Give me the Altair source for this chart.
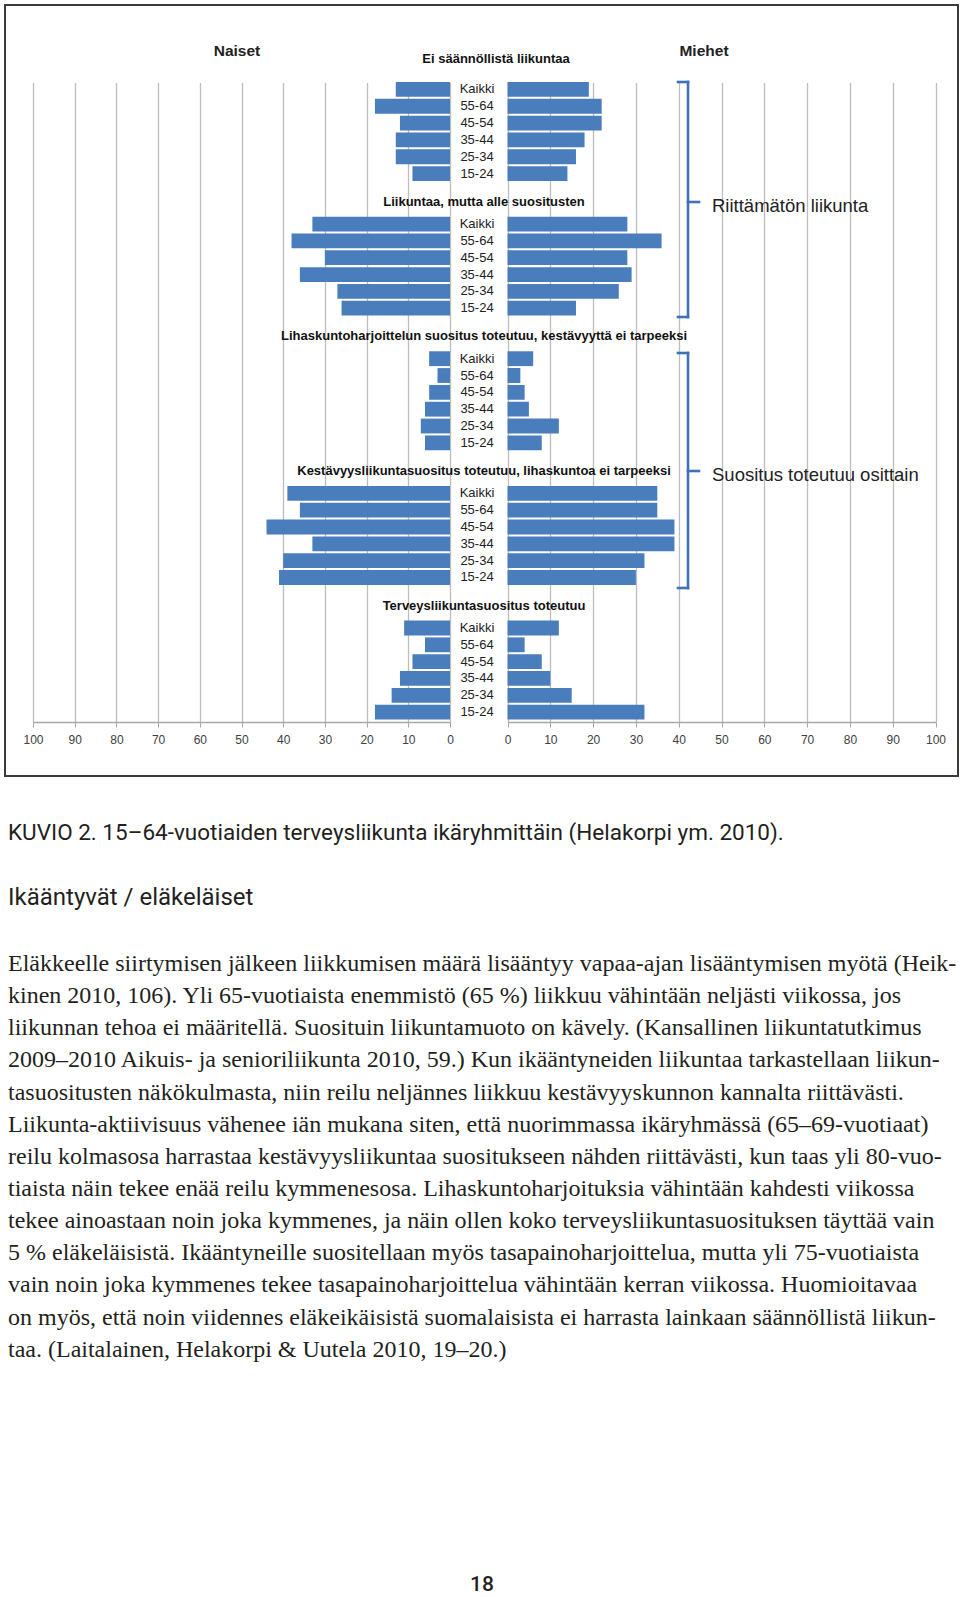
import altair as alt
import pandas as pd

# ---------------- data ----------------
groups = [
    "Ei säännöllistä liikuntaa",
    "Liikuntaa, mutta alle suositusten",
    "Lihaskuntoharjoittelun suositus toteutuu, kestävyyttä ei tarpeeksi",
    "Kestävyysliikuntasuositus toteutuu, lihaskuntoa ei tarpeeksi",
    "Terveysliikuntasuositus toteutuu",
]
ages = ["Kaikki", "55-64", "45-54", "35-44", "25-34", "15-24"]
naiset = [
    [13, 18, 12, 13, 13, 9],
    [33, 38, 30, 36, 27, 26],
    [5, 3, 5, 6, 7, 6],
    [39, 36, 44, 33, 40, 41],
    [11, 6, 9, 12, 14, 18],
]
miehet = [
    [19, 22, 22, 18, 16, 14],
    [28, 36, 28, 29, 26, 16],
    [6, 3, 4, 5, 12, 8],
    [35, 35, 39, 39, 32, 30],
    [12, 4, 8, 10, 15, 32],
]
tick_values = [0, 10, 20, 30, 40, 50, 60, 70, 80, 90, 100]
side_titles = ["Naiset", "Miehet"]
bracket_labels = ["Riittämätön liikunta", "Suositus toteutuu osittain"]

caption = "KUVIO 2. 15–64-vuotiaiden terveysliikunta ikäryhmittäin (Helakorpi ym. 2010)."
heading = "Ikääntyvät / eläkeläiset"
paragraph = [
    "Eläkkeelle siirtymisen jälkeen liikkumisen määrä lisääntyy vapaa-ajan lisääntymisen myötä (Heik-",
    "kinen 2010, 106). Yli 65-vuotiaista enemmistö (65 %) liikkuu vähintään neljästi viikossa, jos",
    "liikunnan tehoa ei määritellä. Suosituin liikuntamuoto on kävely. (Kansallinen liikuntatutkimus",
    "2009–2010 Aikuis- ja senioriliikunta 2010, 59.) Kun ikääntyneiden liikuntaa tarkastellaan liikun-",
    "tasuositusten näkökulmasta, niin reilu neljännes liikkuu kestävyyskunnon kannalta riittävästi.",
    "Liikunta-aktiivisuus vähenee iän mukana siten, että nuorimmassa ikäryhmässä (65–69-vuotiaat)",
    "reilu kolmasosa harrastaa kestävyysliikuntaa suositukseen nähden riittävästi, kun taas yli 80-vuo-",
    "tiaista näin tekee enää reilu kymmenesosa. Lihaskuntoharjoituksia vähintään kahdesti viikossa",
    "tekee ainoastaan noin joka kymmenes, ja näin ollen koko terveysliikuntasuosituksen täyttää vain",
    "5 % eläkeläisistä. Ikääntyneille suositellaan myös tasapainoharjoittelua, mutta yli 75-vuotiaista",
    "vain noin joka kymmenes tekee tasapainoharjoittelua vähintään kerran viikossa. Huomioitavaa",
    "on myös, että noin viidennes eläkeikäisistä suomalaisista ei harrasta lainkaan säännöllistä liikun-",
    "taa. (Laitalainen, Helakorpi & Uutela 2010, 19–20.)",
]
page_number = "18"

# ---------------- tables ----------------
rows = []
for gi, g in enumerate(groups):
    for ai, a in enumerate(ages):
        rows.append({"key": f"{gi}|{a}", "age": a, "group": g,
                     "naiset": naiset[gi][ai], "miehet": miehet[gi][ai]})
df = pd.DataFrame(rows)

row_domain = []
for gi in range(len(groups)):
    if gi > 0:
        row_domain.append(f"{gi}|H")
    for a in ages:
        row_domain.append(f"{gi}|{a}")
    if gi < len(groups) - 1:
        row_domain.append(f"{gi}|G")

hdr_df = pd.DataFrame([{"key": f"{gi}|H", "group": g} for gi, g in enumerate(groups) if gi > 0])
hdr0_df = pd.DataFrame([{"group": groups[0]}])
dummy = pd.DataFrame({"d": [0]})

# ---------------- style ----------------
BAR = "#4a7dbb"
BLUE = "#3f72b5"
SANS = "Liberation Sans"
VIEW_H = 641
STEP = 16.83

yscale = alt.Scale(domain=row_domain, range=[0, STEP * len(row_domain)],
                   paddingInner=0.12, paddingOuter=0.06)


def axis_cfg():
    return alt.Axis(values=tick_values, orient="bottom", title=None, grid=True,
                    gridColor="#bdbdbd", gridWidth=1.3, domainColor="#a8a8a8",
                    domainWidth=1.3, tickColor="#a8a8a8", tickSize=5,
                    labelFont=SANS, labelFontSize=12, labelColor="#404040",
                    labelPadding=7, labelFlush=False, labelOverlap=False)


frame = alt.Chart(dummy).mark_rect(fill="transparent", stroke="#3b3b3b", strokeWidth=2).encode(
    x=alt.value(5), x2=alt.value(958), y=alt.value(-76), y2=alt.value(695))

left = alt.Chart(df).mark_bar(color=BAR).encode(
    x=alt.X("naiset:Q", scale=alt.Scale(domain=[0, 100], range=[450, 33], nice=False),
            axis=axis_cfg()),
    y=alt.Y("key:N", scale=yscale, axis=None),
)
right = alt.Chart(df).mark_bar(color=BAR).encode(
    x=alt.X("miehet:Q", scale=alt.Scale(domain=[0, 100], range=[507.5, 935.5], nice=False),
            axis=axis_cfg()),
    y=alt.Y("key:N", scale=yscale, axis=None),
)

age_text = alt.Chart(df).mark_text(font=SANS, fontSize=13, align="center",
                                   baseline="middle", color="#222222").encode(
    x=alt.value(477), y=alt.Y("key:N", scale=yscale, axis=None), text="age:N")

hdr_text = alt.Chart(hdr_df).mark_text(font=SANS, fontSize=13, fontWeight="bold",
                                       align="center", baseline="middle", dy=-5.5,
                                       color="#111111").encode(
    x=alt.value(484), y=alt.Y("key:N", scale=yscale, axis=None), text="group:N")

hdr0_text = alt.Chart(hdr0_df).mark_text(font=SANS, fontSize=13, fontWeight="bold",
                                         align="center", baseline="middle",
                                         color="#111111").encode(
    x=alt.value(496), y=alt.value(-22), text="group:N")

title_l = alt.Chart(dummy).mark_text(font=SANS, fontSize=15.5, fontWeight="bold",
                                     align="center", baseline="middle", color="#222").encode(
    x=alt.value(237), y=alt.value(-30), text=alt.value(side_titles[0]))
title_r = alt.Chart(dummy).mark_text(font=SANS, fontSize=15.5, fontWeight="bold",
                                     align="center", baseline="middle", color="#222").encode(
    x=alt.value(704), y=alt.value(-30), text=alt.value(side_titles[1]))


def rule(x1, x2, y1, y2):
    return alt.Chart(dummy).mark_rule(color=BLUE, strokeWidth=2.6, strokeCap="square").encode(
        x=alt.value(x1), x2=alt.value(x2), y=alt.value(y1), y2=alt.value(y2))


def bracket(top, bottom, mid, label):
    txt = alt.Chart(dummy).mark_text(font=SANS, fontSize=18.5, align="left",
                                     baseline="middle", color="#222222").encode(
        x=alt.value(712), y=alt.value(mid + 4), text=alt.value(label))
    return [rule(688, 688, top, bottom), rule(678, 688, top, top),
            rule(678, 688, bottom, bottom), rule(688, 699, mid, mid), txt]


brackets = bracket(1, 236, 121, bracket_labels[0]) + bracket(272, 507, 390, bracket_labels[1])

cap_text = alt.Chart(dummy).mark_text(font="Roboto", fontSize=22.5, align="left",
                                      baseline="alphabetic", color="#231f20").encode(
    x=alt.value(8), y=alt.value(759), text=alt.value(caption))
head_text = alt.Chart(dummy).mark_text(font="Roboto", fontSize=24, align="left",
                                       baseline="alphabetic", color="#231f20").encode(
    x=alt.value(8), y=alt.value(824), text=alt.value(heading))
para_text = alt.Chart(dummy).mark_text(font="Liberation Serif", fontSize=24, align="left",
                                       baseline="alphabetic", lineHeight=32.15,
                                       color="#231f20").encode(
    x=alt.value(8), y=alt.value(890), text=alt.value(paragraph))
page_text = alt.Chart(dummy).mark_text(font="Roboto", fontSize=21, fontWeight=500,
                                       align="center", baseline="alphabetic",
                                       color="#231f20").encode(
    x=alt.value(482), y=alt.value(1510), text=alt.value(page_number))

chart = alt.layer(
    frame, left, right, age_text, hdr_text, hdr0_text, title_l, title_r,
    *brackets, cap_text, head_text, para_text, page_text
).resolve_scale(x="independent", y="independent").properties(
    width=960, height=VIEW_H,
    autosize=alt.AutoSizeParams(type="none"),
    padding={"left": 0, "top": 81, "right": 0, "bottom": 875},
    background="white",
).configure_view(strokeWidth=0)

chart.save("out.html", embed_options={"renderer": "svg", "actions": False})
